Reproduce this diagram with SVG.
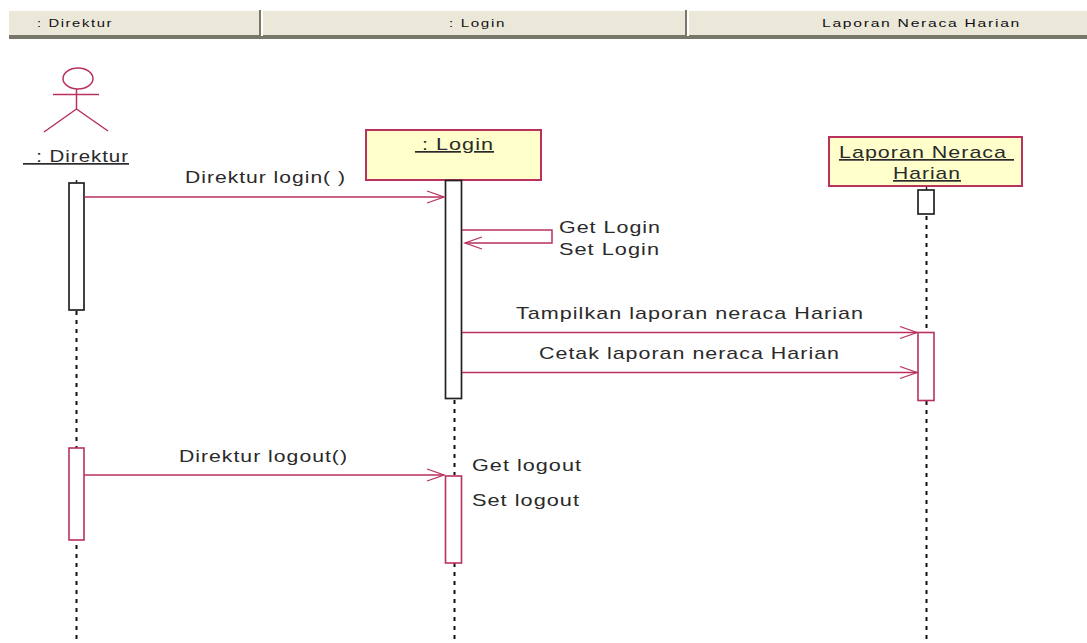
<svg xmlns="http://www.w3.org/2000/svg" width="1087" height="643" viewBox="0 0 1087 643">
<style>
text{font-family:"Liberation Sans",Arial,sans-serif;fill:#2a2a2a;white-space:pre}
.h{font-size:11px;letter-spacing:1.2px;fill:#111}
.t{font-size:17px;letter-spacing:.8px}
.u{text-decoration:underline}
.l{stroke:#b8315f;stroke-width:1.5;fill:none}
.o{stroke:#b8315f;stroke-width:2;fill:#ffffcc}
.a{stroke:#b8315f;stroke-width:1.6;fill:#fff}
.k{stroke:#222;stroke-width:1.7;fill:#fff}
.d{stroke:#111;stroke-width:2;stroke-dasharray:4 5;fill:none}
</style>
<defs><marker id="arr" markerUnits="userSpaceOnUse" markerWidth="20" markerHeight="16" refX="18" refY="8" orient="auto"><path d="M1 2L18 8L1 14" fill="none" stroke="#b8315f" stroke-width="1.3"/></marker></defs>
<rect width="1087" height="643" fill="#fff"/>
<g id="header">
<rect x="9" y="11" width="1078" height="24" fill="#ebe8d9"/>
<rect x="9" y="35" width="1078" height="4" fill="#77776a"/>
<rect x="259" y="10" width="2" height="26" fill="#77776a"/><rect x="261" y="10" width="2" height="26" fill="#fff"/>
<rect x="685" y="10" width="2" height="26" fill="#77776a"/><rect x="687" y="10" width="2" height="26" fill="#fff"/>
<text class="h" x="37" y="27" textLength="76" lengthAdjust="spacingAndGlyphs">: Direktur</text>
<text class="h" x="449" y="27" textLength="57" lengthAdjust="spacingAndGlyphs">: Login</text>
<text class="h" x="822" y="27" textLength="199" lengthAdjust="spacingAndGlyphs">Laporan Neraca Harian</text>
</g>
<g id="lifelines">
<path class="d" d="M76.500 311V643M454.500 400V475M454.500 563V643M926.500 216V332M926.500 401V643"/>
<path d="M926.500 186V190M76.500 180V183" stroke="#222" stroke-width="1.500"/>
</g>
<g id="actor-direktur">
<ellipse class="l" cx="78" cy="78.500" rx="15" ry="10.500"/>
<path class="l" d="M53 94.500H99M76.500 89V109M76.500 109L44 132M76.500 109L108 131"/>
<text class="t u" x="23" y="162" textLength="106" lengthAdjust="spacingAndGlyphs" xml:space="preserve">  : Direktur</text>
</g>
<g id="object-login">
<rect class="o" x="366" y="130" width="175" height="50"/>
<text class="t u" x="415" y="150" textLength="79" lengthAdjust="spacingAndGlyphs" xml:space="preserve"> : Login</text>
</g>
<g id="object-laporan">
<rect class="o" x="829" y="137" width="193" height="49"/>
<text class="t u" x="839" y="158" textLength="175" lengthAdjust="spacingAndGlyphs" xml:space="preserve">Laporan Neraca </text>
<text class="t u" x="893" y="179" textLength="68" lengthAdjust="spacingAndGlyphs">Harian</text>
</g>
<g id="activations">
<rect class="k" x="69" y="183" width="15" height="127"/>
<rect class="k" x="445.500" y="180.500" width="16" height="218"/>
<rect class="k" x="918" y="190" width="16" height="24"/>
<rect class="a" x="918" y="332.500" width="16" height="68"/>
<rect class="a" x="69" y="448" width="15" height="92"/>
<rect class="a" x="445.500" y="476" width="16" height="87"/>
</g>
<g id="connectors">
<path class="l" marker-end="url(#arr)" d="M84 197H444"/>
<path class="l" marker-end="url(#arr)" d="M462 230H552V243H465"/>
<path class="l" marker-end="url(#arr)" d="M462 332.500H917"/>
<path class="l" marker-end="url(#arr)" d="M462 372.500H917"/>
<path class="l" marker-end="url(#arr)" d="M84 475H444"/>
</g>
<g id="labels">
<text class="t" x="185" y="183" textLength="161" lengthAdjust="spacingAndGlyphs">Direktur login( )</text>
<text class="t" x="559" y="233" textLength="102" lengthAdjust="spacingAndGlyphs">Get Login</text>
<text class="t" x="559" y="255" textLength="101" lengthAdjust="spacingAndGlyphs">Set Login</text>
<text class="t" x="516" y="319" textLength="348" lengthAdjust="spacingAndGlyphs">Tampilkan laporan neraca Harian</text>
<text class="t" x="539" y="359" textLength="301" lengthAdjust="spacingAndGlyphs">Cetak laporan neraca Harian</text>
<text class="t" x="179" y="462" textLength="169" lengthAdjust="spacingAndGlyphs">Direktur logout()</text>
<text class="t" x="472" y="471" textLength="110" lengthAdjust="spacingAndGlyphs">Get logout</text>
<text class="t" x="472" y="506" textLength="108" lengthAdjust="spacingAndGlyphs">Set logout</text>
</g>
</svg>
